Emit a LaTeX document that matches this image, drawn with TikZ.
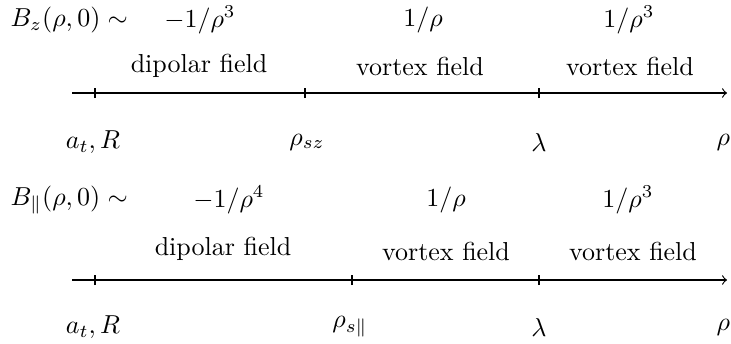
\documentclass[tikz,border=0pt]{standalone}
\begin{document}
\begin{tikzpicture}[x=0.385pt,y=-0.385pt,
  lbl/.style={inner sep=0pt},
  axis/.style={line width=0.45pt,->},
  tick/.style={line width=0.45pt}]
\useasboundingbox (0,0) rectangle (731,343);
% top row
\node[lbl,anchor=west] (bz) at (10,20) {$B_z(\rho,0)\sim$};
\node[lbl] (f1) at (200,20) {$-1/\rho^3$};
\node[lbl] (f2) at (423,20) {$1/\rho$};
\node[lbl] (f3) at (629,20) {$1/\rho^3$};
\node[lbl] (d1) at (199,66) {dipolar field};
\node[lbl] (v1) at (420,66) {vortex field};
\node[lbl] (v2) at (630,66) {vortex field};
\coordinate (a1s) at (72,93);
\coordinate (a1e) at (727,93);
\draw[axis] (a1s) -- (a1e);
\coordinate (t11) at (95,93);
\coordinate (t12) at (305,93);
\coordinate (t13) at (539,93);
\foreach \t in {t11,t12,t13} \draw[tick] ([yshift=-2pt]\t) -- ([yshift=2pt]\t);
\node[lbl] (l11) at (93,142) {$a_t,R$};
\node[lbl] (l12) at (307,142) {$\rho_{sz}$};
\node[lbl] (l13) at (539,142) {$\lambda$};
\node[lbl,anchor=west] (l14) at (716,142) {$\rho$};
% bottom row
\node[lbl,anchor=west] (bp) at (10,200) {$B_\parallel(\rho,0)\sim$};
\node[lbl] (g1) at (229,200) {$-1/\rho^4$};
\node[lbl] (g2) at (446,200) {$1/\rho$};
\node[lbl] (g3) at (628,200) {$1/\rho^3$};
\node[lbl] (d2) at (223,249) {dipolar field};
\node[lbl] (v3) at (446,251) {vortex field};
\node[lbl] (v4) at (633,251) {vortex field};
\coordinate (a2s) at (72,280);
\coordinate (a2e) at (727,280);
\draw[axis] (a2s) -- (a2e);
\coordinate (t21) at (95,280);
\coordinate (t22) at (352,280);
\coordinate (t23) at (539,280);
\foreach \t in {t21,t22,t23} \draw[tick] ([yshift=-2pt]\t) -- ([yshift=2pt]\t);
\node[lbl] (l21) at (93,327) {$a_t,R$};
\node[lbl] (l22) at (350,327) {$\rho_{s\parallel}$};
\node[lbl] (l23) at (539,327) {$\lambda$};
\node[lbl,anchor=west] (l24) at (716,327) {$\rho$};
\end{tikzpicture}
\end{document}
